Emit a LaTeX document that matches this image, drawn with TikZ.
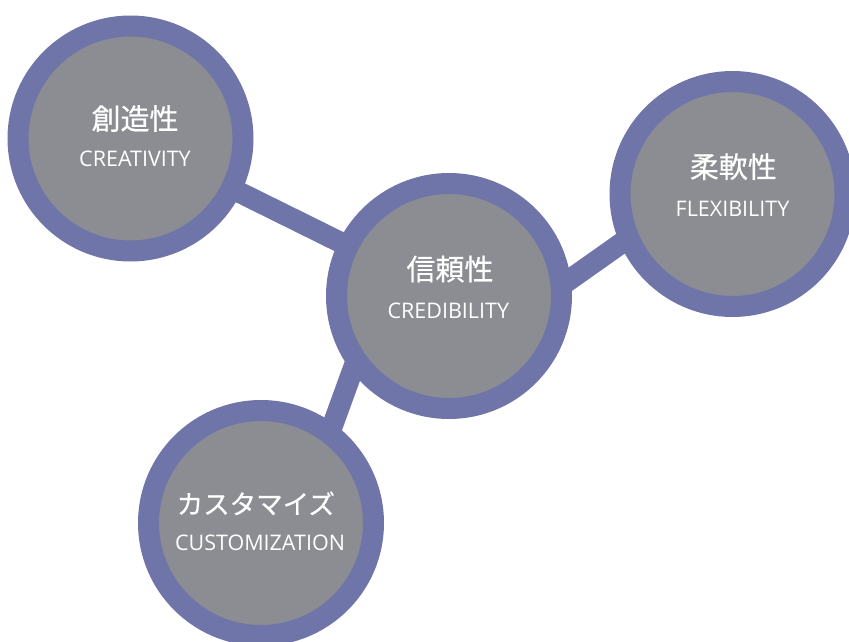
\documentclass[tikz,border=0pt]{standalone}
\usepackage{fontspec}
\setmainfont{Open Sans}
\newfontfamily\jpfont{Noto Sans CJK JP}[FakeBold=0.5]
\usetikzlibrary{backgrounds}
\definecolor{ring}{RGB}{111,117,168}
\definecolor{core}{RGB}{139,141,147}
\tikzset{
  bubble/.style={circle, draw=ring, fill=core, line width=21pt, minimum size=225pt, inner sep=0pt},
  conn/.style={draw=ring, line width=21pt},
  jp/.style={text=white, font=\jpfont\fontsize{29}{32}\selectfont, inner sep=0pt, anchor=base},
  en/.style={text=white, font=\fontsize{21.5}{25}\selectfont, inner sep=0pt, anchor=base}
}
\begin{document}
\begin{tikzpicture}[x=1pt,y=-1pt]
\useasboundingbox (0,0) rectangle (849,642);
\node[bubble] (crea) at (130.5,138.5) {};
\node[bubble] (cred) at (449,296) {};
\node[bubble] (flex) at (732.5,194) {};
\node[bubble] (cust) at (261,523) {};
\begin{scope}[on background layer]
  \draw[conn] (crea.center) -- (cred.center);
  \draw[conn, shorten <=-12pt, shorten >=-12pt] (cred.8.7) -- (flex.204.6);
  \draw[conn, shorten <=-12pt, shorten >=-12pt] (cred.218.5) -- (cust.54.7);
\end{scope}
\node[jp] (crea-jp) at (135,129.5) {創造性};
\node[en] (crea-en) at (135,166.7) {CREATIVITY};
\node[jp] (cred-jp) at (450,280) {信頼性};
\node[en] (cred-en) at (448.3,318.3) {CREDIBILITY};
\node[jp] (flex-jp) at (733.3,177.7) {柔軟性};
\node[en] (flex-en) at (732.5,216) {FLEXIBILITY};
\node[jp, font=\jpfont\fontsize{26.5}{30}\selectfont] (cust-jp) at (255.8,514) {カスタマイズ};
\node[en] (cust-en) at (260,550) {CUSTOMIZATION};
\end{tikzpicture}
\end{document}
